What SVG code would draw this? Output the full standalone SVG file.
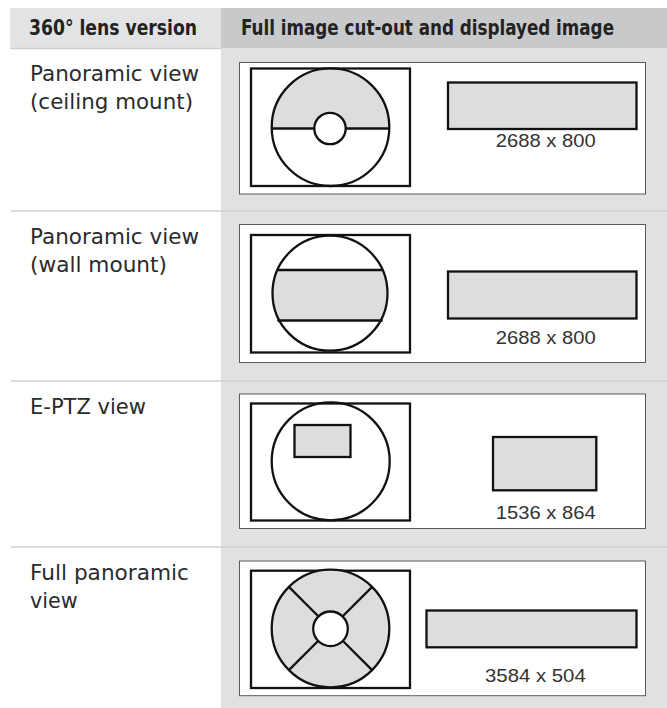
<svg xmlns="http://www.w3.org/2000/svg" width="667" height="708" viewBox="0 0 667 708">
  <style>
    .hdr { font-family: "Liberation Sans Narrow", "DejaVu Sans Condensed", "DejaVu Sans", sans-serif; font-weight: bold; font-size: 21px; fill: #222222; }
    .lbl { font-family: "DejaVu Sans", "Liberation Sans", sans-serif; font-size: 21px; fill: #2b2b2b; }
    .dim { font-family: "Liberation Sans", "DejaVu Sans", sans-serif; font-size: 19px; fill: #333333; }
    .sep { stroke: #cfd0d2; stroke-width: 1.6; fill: none; }
    .box { fill: #ffffff; stroke: #5a5a5a; stroke-width: 1; }
    .frm { fill: #ffffff; stroke: #111111; stroke-width: 2.3; }
    .ln { stroke: #111111; stroke-width: 2.3; fill: none; }
    .gry { fill: #dcdddf; stroke: #111111; stroke-width: 2.3; }
    .wht { fill: #ffffff; stroke: #111111; stroke-width: 2.3; }
    .nof { fill: none; stroke: #111111; stroke-width: 2.3; }
  </style>

  <!-- background -->
  <rect x="0" y="0" width="667" height="708" fill="#ffffff"/>
  <rect x="221" y="48" width="446" height="660" fill="#e0e1e3"/>

  <!-- header -->
  <g id="header">
    <rect x="10" y="8" width="211" height="40" fill="#e2e3e5"/>
    <rect x="221" y="8" width="446" height="40" fill="#c8c9cb"/>
    <line x1="10" y1="48.5" x2="221" y2="48.5" class="sep"/>
    <text x="29" y="35" class="hdr" textLength="168" lengthAdjust="spacingAndGlyphs">360° lens version</text>
    <text x="241" y="35" class="hdr" textLength="373" lengthAdjust="spacingAndGlyphs">Full image cut-out and displayed image</text>
  </g>

  <!-- row separators -->
  <g id="separators">
    <line x1="11" y1="211" x2="667" y2="211" class="sep"/>
    <line x1="11" y1="381" x2="667" y2="381" class="sep"/>
    <line x1="11" y1="547" x2="667" y2="547" class="sep"/>
  </g>

  <!-- connectors (none) -->
  <g id="connectors"/>

  <!-- Row 1: ceiling mount -->
  <g id="row-ceiling">
    <text x="30" y="81" class="lbl" textLength="169" lengthAdjust="spacingAndGlyphs">Panoramic view</text>
    <text x="30" y="109" class="lbl" textLength="163" lengthAdjust="spacingAndGlyphs">(ceiling mount)</text>
    <rect x="239.5" y="62.5" width="406" height="131.5" class="box"/>
    <rect x="251" y="68.5" width="159" height="117.5" class="frm"/>
    <path d="M271.5,128.5 A59,59 0 0 1 389.5,128.5 Z" fill="#dcdddf"/>
    <circle cx="330.5" cy="127.2" r="58.8" class="nof"/>
    <line x1="271.7" y1="128.5" x2="389.3" y2="128.5" class="ln"/>
    <circle cx="330" cy="128.5" r="15.7" class="wht"/>
    <rect x="448" y="82.5" width="188.5" height="46.5" class="gry"/>
    <text x="495.7" y="146.7" class="dim" textLength="100" lengthAdjust="spacingAndGlyphs">2688 x 800</text>
  </g>

  <!-- Row 2: wall mount -->
  <g id="row-wall">
    <text x="30" y="244" class="lbl" textLength="169" lengthAdjust="spacingAndGlyphs">Panoramic view</text>
    <text x="30" y="272" class="lbl" textLength="137" lengthAdjust="spacingAndGlyphs">(wall mount)</text>
    <rect x="239.5" y="224.5" width="406" height="138" class="box"/>
    <rect x="251" y="235" width="159" height="117.5" class="frm"/>
    <path d="M277.8,270 A57.5,57.5 0 0 0 273,293 A57.5,57.5 0 0 0 277.8,320.5 L382.2,320.5 A57.5,57.5 0 0 0 387,293 A57.5,57.5 0 0 0 382.2,270 Z" fill="#dcdddf"/>
    <circle cx="330" cy="293.2" r="57.5" class="nof"/>
    <line x1="277.3" y1="270" x2="382.7" y2="270" class="ln"/>
    <line x1="277.3" y1="320.5" x2="382.7" y2="320.5" class="ln"/>
    <rect x="448" y="271.5" width="188.5" height="47" class="gry"/>
    <text x="495.7" y="343.8" class="dim" textLength="100" lengthAdjust="spacingAndGlyphs">2688 x 800</text>
  </g>

  <!-- Row 3: E-PTZ -->
  <g id="row-eptz">
    <text x="30" y="414" class="lbl" textLength="116" lengthAdjust="spacingAndGlyphs">E-PTZ view</text>
    <rect x="239.5" y="394" width="406" height="134.5" class="box"/>
    <rect x="251" y="403.5" width="159" height="117" class="frm"/>
    <circle cx="330.7" cy="461.3" r="59" class="nof"/>
    <rect x="294.5" y="425" width="56" height="32" class="gry"/>
    <rect x="493" y="437" width="103.3" height="53.3" class="gry"/>
    <text x="495.7" y="519.3" class="dim" textLength="100" lengthAdjust="spacingAndGlyphs">1536 x 864</text>
  </g>

  <!-- Row 4: full panoramic -->
  <g id="row-full">
    <text x="30" y="580" class="lbl" textLength="159" lengthAdjust="spacingAndGlyphs">Full panoramic</text>
    <text x="30" y="608" class="lbl" textLength="47.7" lengthAdjust="spacingAndGlyphs">view</text>
    <rect x="239.5" y="561" width="406" height="134.7" class="box"/>
    <rect x="251" y="570.7" width="159" height="117.3" class="frm"/>
    <circle cx="330.5" cy="628.5" r="58.8" class="gry"/>
    <line x1="288.9" y1="586.9" x2="318.3" y2="616.3" class="ln"/>
    <line x1="372.1" y1="586.9" x2="342.7" y2="616.3" class="ln"/>
    <line x1="288.9" y1="670.1" x2="318.3" y2="640.7" class="ln"/>
    <line x1="372.1" y1="670.1" x2="342.7" y2="640.7" class="ln"/>
    <circle cx="330.5" cy="628.8" r="17.3" class="wht"/>
    <rect x="426.5" y="610.5" width="210" height="36.8" class="gry"/>
    <text x="485" y="681.7" class="dim" textLength="100.7" lengthAdjust="spacingAndGlyphs">3584 x 504</text>
  </g>
</svg>
